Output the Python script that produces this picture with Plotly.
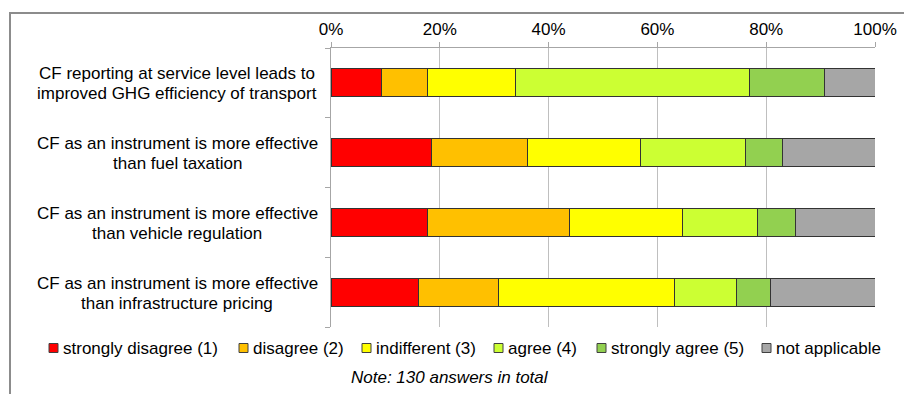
import plotly.graph_objects as go

# Survey statements (one horizontal bar each, top to bottom)
statements = [
    "CF reporting at service level leads to<br>improved GHG efficiency of transport",
    "CF as an instrument is more effective<br>than fuel taxation",
    "CF as an instrument is more effective<br>than vehicle regulation",
    "CF as an instrument is more effective<br>than infrastructure pricing",
]

answer_labels = [
    "strongly disagree (1)",
    "disagree (2)",
    "indifferent (3)",
    "agree (4)",
    "strongly agree (5)",
    "not applicable",
]

total_answers = 130

# Number of answers per statement and answer option
strongly_disagree = [12, 24, 23, 21]
disagree = [11, 23, 34, 19]
indifferent = [21, 27, 27, 42]
agree = [56, 25, 18, 15]
strongly_agree = [18, 9, 9, 8]
not_applicable = [12, 22, 19, 25]

x_tick_values = [0, 20, 40, 60, 80, 100]

answer_counts = [strongly_disagree, disagree, indifferent, agree, strongly_agree, not_applicable]
answer_colors = ["#FF0000", "#FFC000", "#FFFF00", "#CCFF33", "#92D050", "#A6A6A6"]

FONT = "Liberation Sans, Arial, sans-serif"
W, H = 904, 394
PLOT_L, PLOT_R, PLOT_T, PLOT_B = 331, 875, 48, 327


def px_x(px):
    return (px - PLOT_L) / (PLOT_R - PLOT_L)


def px_y(py):
    return (PLOT_B - py) / (PLOT_B - PLOT_T)


fig = go.Figure()
y_idx = list(range(len(statements)))
for label, counts, color in zip(answer_labels, answer_counts, answer_colors):
    shares = [c / total_answers * 100 for c in counts]
    fig.add_trace(
        go.Bar(
            x=shares,
            y=y_idx,
            orientation="h",
            name=label,
            marker=dict(color=color, line=dict(color="#333333", width=1)),
            showlegend=False,
        )
    )

annotations = []
# Statement labels, centred to the left of the plot, with tight line spacing
for i, text in enumerate(statements):
    lines = text.split("<br>")
    for j, line in enumerate(lines):
        annotations.append(
            dict(
                x=px_x(177), xref="paper", y=i, yref="y",
                yshift=(len(lines) - 1) * 10 - j * 20 - 1,
                text=line, showarrow=False, xanchor="center", yanchor="middle",
                align="center", font=dict(family=FONT, size=17, color="#000000"),
            )
        )

# Legend row drawn below the plot
legend_square_x = [49, 239, 362, 494, 597, 762]
legend_y = 348
shapes = []
for sx, label, color in zip(legend_square_x, answer_labels, answer_colors):
    shapes.append(
        dict(
            type="rect", xref="paper", yref="paper",
            x0=px_x(sx), x1=px_x(sx + 9), y0=px_y(legend_y + 4.5), y1=px_y(legend_y - 4.5),
            fillcolor=color, line=dict(color="#404040", width=1),
        )
    )
    annotations.append(
        dict(
            x=px_x(sx + 12), xref="paper", y=px_y(legend_y), yref="paper",
            text=label, showarrow=False, xanchor="left", yanchor="middle",
            font=dict(family=FONT, size=17, color="#000000"),
        )
    )

annotations.append(
    dict(
        x=px_x(450), xref="paper", y=px_y(377), yref="paper",
        text=f"<i>Note: {total_answers} answers in total</i>", showarrow=False,
        xanchor="center", yanchor="middle",
        font=dict(family=FONT, size=17, color="#000000"),
    )
)

# Chart frame (top and left edges visible)
shapes.append(
    dict(
        type="path", xref="paper", yref="paper",
        path=f"M {px_x(10)} {px_y(420)} L {px_x(10)} {px_y(13)} L {px_x(940)} {px_y(13)}",
        line=dict(color="#8c8c8c", width=2),
    )
)

fig.update_layout(
    barmode="stack",
    bargap=0.6,
    width=W,
    height=H,
    margin=dict(l=PLOT_L, r=W - PLOT_R, t=PLOT_T, b=H - PLOT_B, pad=0),
    paper_bgcolor="white",
    plot_bgcolor="white",
    font=dict(family=FONT, size=17, color="#000000"),
    showlegend=False,
    shapes=shapes,
    annotations=annotations,
    xaxis=dict(
        side="top",
        range=[0, 100],
        tickvals=x_tick_values,
        ticktext=[f"{v}%" for v in x_tick_values],
        ticks="outside",
        ticklen=5,
        tickcolor="#a6a6a6",
        showgrid=True,
        gridcolor="#bfbfbf",
        gridwidth=1,
        showline=True,
        linecolor="#a6a6a6",
        linewidth=1,
        zeroline=False,
        automargin=False,
        tickfont=dict(family=FONT, size=17, color="#000000"),
        fixedrange=True,
    ),
    yaxis=dict(
        type="category",
        autorange="reversed",
        tickvals=y_idx,
        showticklabels=False,
        ticks="outside",
        tickson="boundaries",
        ticklen=5,
        tickcolor="#a6a6a6",
        showgrid=False,
        showline=True,
        linecolor="#a6a6a6",
        linewidth=1,
        zeroline=False,
        automargin=False,
        fixedrange=True,
    ),
)

fig.write_html("out.html")
